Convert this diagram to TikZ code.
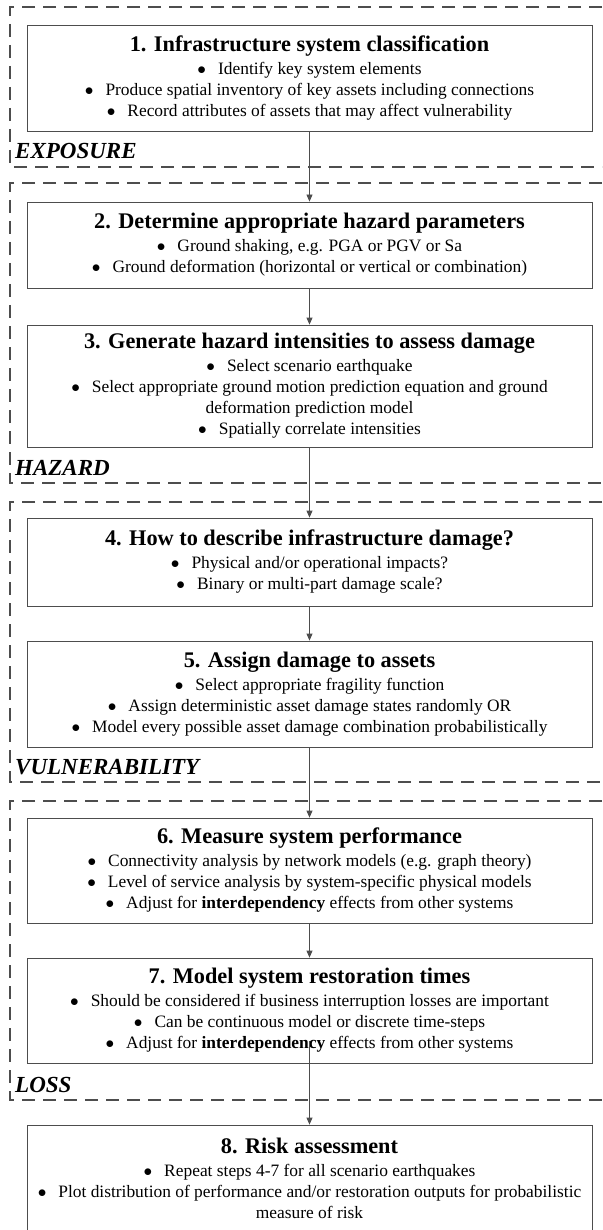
\documentclass[tikz,border=0pt]{standalone}
\usepackage{fontspec}
\setmainfont{Liberation Serif}
\usetikzlibrary{arrows.meta,shadows}
\definecolor{linegray}{HTML}{4D4D4D}
\newcommand{\stitle}[1]{{\fontsize{22.3}{26}\selectfont\bfseries #1}\\[2pt]}
\newcommand{\bitem}[1]{$\bullet$\hspace{12pt}#1}

\begin{document}
\begin{tikzpicture}[x=1pt,y=-1pt]
    \tikzstyle{every node}=[font=\fontsize{17.4}{21}\selectfont];
    \tikzstyle{stepbox}=[draw=linegray,line width=0.8pt,fill=white,minimum width=565pt,align=center,inner sep=0pt,
      drop shadow={shadow xshift=1.2pt,shadow yshift=-1.2pt,opacity=0.25,fill=black!60}];
    \tikzstyle{zone}=[draw=linegray,line width=1.2pt,dash pattern=on 13pt off 8pt];
    \tikzstyle{zonelabel}=[anchor=base west,inner sep=0pt,font=\fontsize{23}{26}\selectfont\bfseries\itshape];
    \tikzstyle{flow}=[draw=linegray,line width=0.8pt,-{Triangle[width=6pt,length=7pt]}];
    \useasboundingbox (0,0) rectangle (602,1230);

    \draw[zone] (602,7) -| (10,167) -- (602,167);
    \draw[zone] (602,183) -| (10,483) -- (602,483);
    \draw[zone] (602,502) -| (10,782) -- (602,782);
    \draw[zone] (602,801) -| (10,1100) -- (602,1100);

    \node[zonelabel] at (15,159) (zexp) {EXPOSURE};
    \node[zonelabel] at (15,475) (zhaz) {HAZARD};
    \node[zonelabel] at (15,774) (zvul) {VULNERABILITY};
    \node[zonelabel] at (15,1092) (zloss) {LOSS};

    \node[stepbox,minimum height=106pt] at (309.5,78) (s1) {\stitle{1. Infrastructure system classification}
      \bitem{Identify key system elements}\\
      \bitem{Produce spatial inventory of key assets including connections}\\
      \bitem{Record attributes of assets that may affect vulnerability}};
    \node[stepbox,minimum height=86pt] at (309.5,245) (s2) {\stitle{2. Determine appropriate hazard parameters}
      \bitem{Ground shaking, e.g. PGA or PGV or Sa}\\
      \bitem{Ground deformation (horizontal or vertical or combination)}};
    \node[stepbox,minimum height=122pt] at (309.5,386) (s3) {\stitle{3. Generate hazard intensities to assess damage}
      \bitem{Select scenario earthquake}\\
      \bitem{Select appropriate ground motion prediction equation and ground}\\
      deformation prediction model\\
      \bitem{Spatially correlate intensities}};
    \node[stepbox,minimum height=88pt] at (309.5,562) (s4) {\stitle{4. How to describe infrastructure damage?}
      \bitem{Physical and/or operational impacts?}\\
      \bitem{Binary or multi-part damage scale?}};
    \node[stepbox,minimum height=106pt] at (309.5,694) (s5) {\stitle{5. Assign damage to assets}
      \bitem{Select appropriate fragility function}\\
      \bitem{Assign deterministic asset damage states randomly OR}\\
      \bitem{Model every possible asset damage combination probabilistically}};
    \node[stepbox,minimum height=105pt] at (309.5,870.5) (s6) {\stitle{6. Measure system performance}
      \bitem{Connectivity analysis by network models (e.g. graph theory)}\\
      \bitem{Level of service analysis by system-specific physical models}\\
      \bitem{Adjust for \textbf{interdependency} effects from other systems}};
    \node[stepbox,minimum height=105pt] at (309.5,1010.5) (s7) {\stitle{7. Model system restoration times}
      \bitem{Should be considered if business interruption losses are important}\\
      \bitem{Can be continuous model or discrete time-steps}\\
      \bitem{Adjust for \textbf{interdependency} effects from other systems}};
    \node[stepbox,minimum height=107pt] at (309.5,1178.5) (s8) {\stitle{8. Risk assessment}
      \bitem{Repeat steps 4-7 for all scenario earthquakes}\\
      \bitem{Plot distribution of performance and/or restoration outputs for probabilistic}\\
      measure of risk};

    \draw[flow] (s1) to (s2);
    \draw[flow] (s2) to (s3);
    \draw[flow] (s3) to (s4);
    \draw[flow] (s4) to (s5);
    \draw[flow] (s5) to (s6);
    \draw[flow] (s6) to (s7);
    \draw[flow] ([yshift=22pt]s7.south) to (s8);
\end{tikzpicture}
\end{document}
